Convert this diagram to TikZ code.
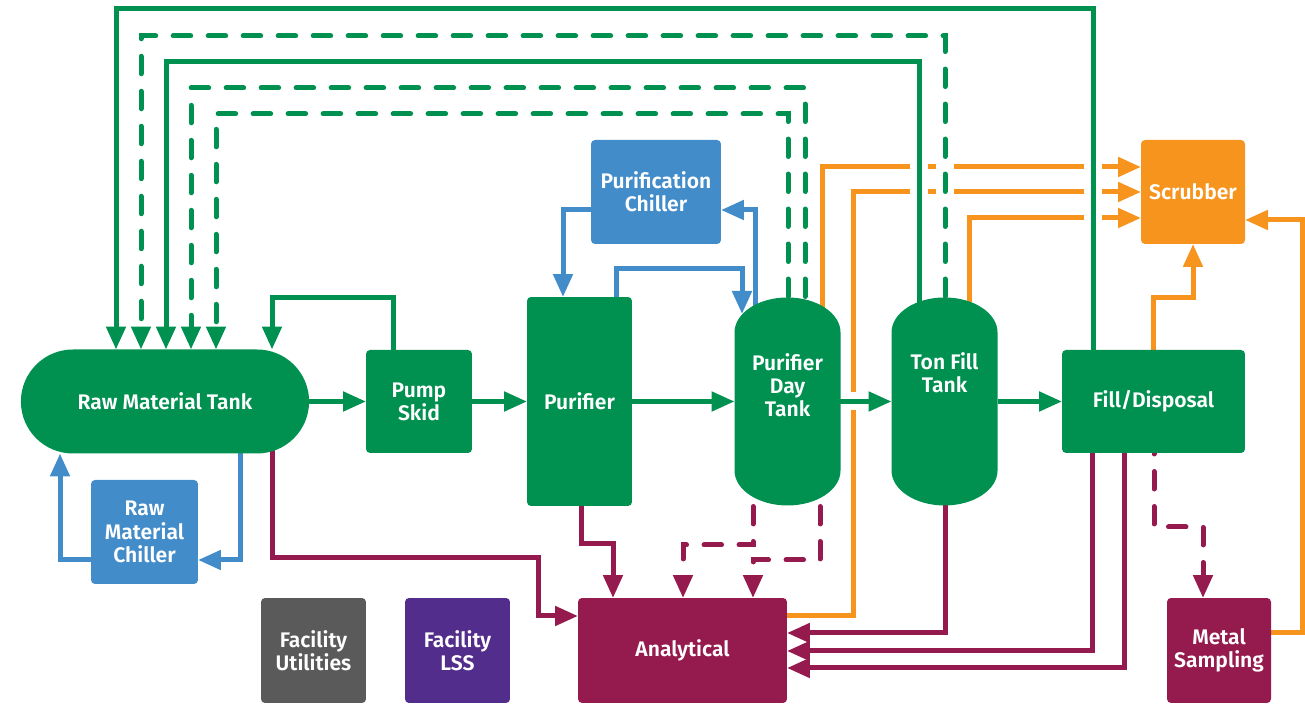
\documentclass[tikz,border=0pt]{standalone}
\usepackage{fontspec}
\setmainfont{Fira Sans}[BoldFont={Fira Sans SemiBold}]
\usetikzlibrary{arrows.meta,shapes.misc,backgrounds}

\definecolor{flowgreen}{RGB}{0,145,80}
\definecolor{coolblue}{RGB}{67,140,202}
\definecolor{ventorange}{RGB}{247,148,30}
\definecolor{labmaroon}{RGB}{149,27,79}
\definecolor{utilgray}{RGB}{90,90,90}
\definecolor{lsspurple}{RGB}{83,45,139}

\begin{document}
\begin{tikzpicture}[x=0.02cm, y=0.02cm,
  box/.style={rectangle, rounded corners=0.08cm, text=white, align=center, outer sep=0pt,
    font=\bfseries\fontsize{12}{13.2}\selectfont},
  tank/.style={rectangle, minimum width=2.12cm, minimum height=4.16cm, outer sep=0pt, inner sep=0pt},
  pipe/.style={line width=0.1cm, -{Triangle[width=0.38cm,length=0.46cm]}},
  dashline/.style={dash pattern=on 0.35cm off 0.35cm, line cap=round},
  hop/.style={preaction={draw=white, line width=0.36cm, solid, -}}]

\useasboundingbox (0,0) rectangle (1305,705);

% process units
\node[box, sharp corners, shape=rounded rectangle, fill=flowgreen, minimum width=6cm, minimum height=2.08cm] (rmt) at (165,303.5) {Raw Material Tank};
\node[box, fill=flowgreen, minimum width=2.12cm, minimum height=2.06cm] (pump) at (419,303.5) {Pump\\Skid};
\node[box, fill=flowgreen, minimum width=2.1cm, minimum height=4.18cm] (purifier) at (579.5,303.5) {Purifier};
\node[tank] (daytank) at (787.5,303.5) {};
\node[tank] (tonfill) at (944.5,303.5) {};
\foreach \t in {daytank,tonfill}
  \fill[flowgreen] (\t.south west) ++(0,35) -- ++(0,138)
    arc[start angle=180, end angle=0, x radius=53, y radius=35] -- ++(0,-138)
    arc[start angle=0, end angle=-180, x radius=53, y radius=35] -- cycle;
\node[box] (daytanktxt) at ([yshift=0.33cm]daytank.center) {Purifier\\Day\\Tank};
\node[box] (tonfilltxt) at ([yshift=0.57cm]tonfill.center) {Ton Fill\\Tank};
\node[box, fill=flowgreen, minimum width=3.66cm, minimum height=2.06cm] (filldisp) at (1153.5,303.5) {Fill/Disposal};

% chillers and scrubber
\node[box, fill=coolblue, minimum width=2.14cm, minimum height=2.08cm] (rchiller) at (144.5,173) {Raw\\Material\\Chiller};
\node[box, fill=coolblue, minimum width=2.6cm, minimum height=2.08cm] (pchiller) at (656,513) {Purification\\Chiller};
\node[box, fill=ventorange, minimum width=2.08cm, minimum height=2.08cm] (scrubber) at (1193,513) {Scrubber};

% bottom row
\node[box, fill=utilgray, minimum width=2.1cm, minimum height=2.1cm] (futil) at (313.5,54.5) {Facility\\Utilities};
\node[box, fill=lsspurple, minimum width=2.1cm, minimum height=2.1cm] (flss) at (457.5,54.5) {Facility\\LSS};
\node[box, fill=labmaroon, minimum width=4.18cm, minimum height=2.1cm] (analytical) at (682.5,54.5) {Analytical};
\node[box, fill=labmaroon, minimum width=2.08cm, minimum height=2.1cm] (metal) at (1219,54.5) {Metal\\Sampling};

\begin{scope}[on background layer]
% chiller loops
\draw[pipe, coolblue] (rmt.center -| 240,0) |- (rchiller.east |- 0,145);
\draw[pipe, coolblue] (rchiller.west |- 0,145) -| (60,0 |- rmt.south);
\draw[pipe, coolblue] (pchiller.west |- 0,495) -| (563,0 |- purifier.north);
\draw[pipe, coolblue] (purifier.center -| 616,0) |- (742,436) -- (742,391);
\draw[pipe, coolblue] (daytank.center -| 755,0) |- (pchiller.east |- 0,495);

% vents
\draw[pipe, ventorange] (daytank.center -| 822,0) |- (scrubber.west |- 0,538);
\draw[pipe, ventorange] (analytical.east |- 0,89) -| (853,513) -- (scrubber.west |- 0,513);
\draw[pipe, ventorange] (tonfill.center -| 969,0) |- (scrubber.west |- 0,487);
\draw[pipe, ventorange] (filldisp.center -| 1153,0) |- (scrubber.south |- 0,407) -- (scrubber.south);
\draw[pipe, ventorange] (metal.east |- 0,72) -| (1302,485) -- (scrubber.east |- 0,485);

% samples
\draw[pipe, labmaroon] (rmt.center -| 272,0) |- (538,147) |- (analytical.west |- 0,89);
\draw[pipe, labmaroon] (purifier.center -| 581,0) |- (613,161) -- (613,0 |- analytical.north);
\draw[pipe, labmaroon, dashline] (daytank.center -| 753,0) |- (683,160) -- (683,0 |- analytical.north);
\draw[pipe, labmaroon, dashline] (daytank.center -| 820,0) |- (753,145) -- (753,0 |- analytical.north);
\draw[pipe, labmaroon] (tonfill.center -| 945,0) |- (analytical.east |- 0,72);
\draw[pipe, labmaroon] (filldisp.center -| 1092,0) |- (analytical.east |- 0,54);
\draw[pipe, labmaroon] (filldisp.center -| 1124,0) |- (analytical.east |- 0,37);
\draw[pipe, labmaroon, dashline] (filldisp.center -| 1154,0) |- (1203,178) -- (1203,0 |- metal.north);

% main flow
\draw[pipe, flowgreen] (rmt.east) -- (pump.west);
\draw[pipe, flowgreen] (pump.east) -- (purifier.west);
\draw[pipe, flowgreen] (purifier.east) -- (daytank.west);
\draw[pipe, flowgreen, hop] (daytank.east) -- (tonfill.west);
\draw[pipe, flowgreen] (tonfill.east) -- (filldisp.west);
\draw[pipe, flowgreen] (pump.center -| 393,0) |- (272,407) -- (272,0 |- rmt.north);

% returns
\draw[pipe, flowgreen, hop] (filldisp.center -| 1093,0) |- (116,696) -- (116,0 |- rmt.north);
\draw[pipe, flowgreen, hop, dashline] (tonfill.center -| 945,0) |- (141,669) -- (141,0 |- rmt.north);
\draw[pipe, flowgreen, hop] (tonfill.center -| 919,0) |- (166,643) -- (166,0 |- rmt.north);
\draw[pipe, flowgreen, dashline] (daytank.center -| 805,0) |- (191,617) -- (191,0 |- rmt.north);
\draw[pipe, flowgreen, dashline] (daytank.center -| 788,0) |- (216,591) -- (216,0 |- rmt.north);
\end{scope}
\end{tikzpicture}
\end{document}
